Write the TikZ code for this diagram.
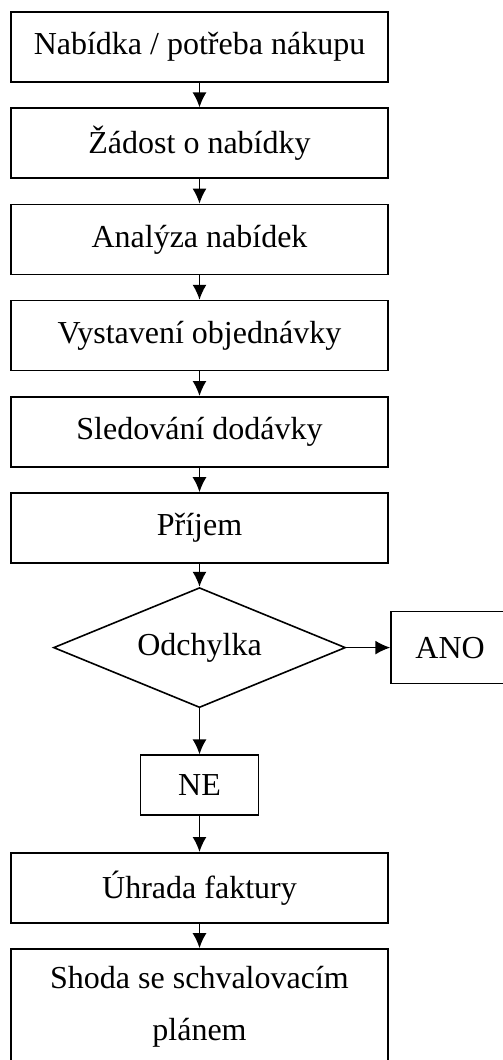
\documentclass[tikz,border=0pt]{standalone}
\usepackage{fontspec}
\setmainfont{Liberation Serif}
\usetikzlibrary{arrows.meta,positioning,shapes.geometric}

\begin{document}
\begin{tikzpicture}[
  every node/.style={font=\fontsize{16pt}{26pt}\selectfont},
  proc/.style ={draw, line width=0.8pt, minimum width=188.5pt,
                minimum height=35pt, align=center, inner sep=2pt},
  dec/.style  ={draw, line width=0.8pt, diamond, aspect=2.43,
                minimum width=146pt, minimum height=60pt, inner sep=0pt},
  ans/.style  ={draw, line width=0.8pt, minimum width=59pt,
                minimum height=36pt},
  arr/.style  ={-{Latex[length=7.5pt,width=7pt]}, line width=0.8pt},
  node distance=12.3pt
]
\useasboundingbox (0,0) rectangle (251.5pt,-530pt);
\clip (0,0) rectangle (251.5pt,-530pt);

\node[proc] (nab) at (99.75pt,-23.5pt) {Nabídka / potřeba nákupu};
\node[proc, below=of nab]  (zad)  {Žádost o nabídky};
\node[proc, below=of zad]  (anal) {Analýza nabídek};
\node[proc, below=of anal] (obj)  {Vystavení objednávky};
\node[proc, below=of obj]  (sled) {Sledování dodávky};
\node[proc, below=of sled] (prij) {Příjem};

% Decision
\node[dec, below=11.5pt of prij] (odch) {Odchylka};
\node[ans, right=22pt of odch]   (ano)  {ANO};
\node[ans, below=23pt of odch, minimum height=30pt] (ne) {NE};

\node[proc, below=18pt of ne] (uhr)   {Úhrada faktury};
\node[proc, below=of uhr, minimum height=58pt] (shoda)
     {Shoda se schvalovacím\\plánem};

% Arrows
\draw[arr] (nab)  -- (zad);
\draw[arr] (zad)  -- (anal);
\draw[arr] (anal) -- (obj);
\draw[arr] (obj)  -- (sled);
\draw[arr] (sled) -- (prij);
\draw[arr] (prij) -- (odch);
\draw[arr] (odch) -- (ano);
\draw[arr] (odch) -- (ne);
\draw[arr] (ne)   -- (uhr);
\draw[arr] (uhr)  -- (shoda);

\end{tikzpicture}
\end{document}
